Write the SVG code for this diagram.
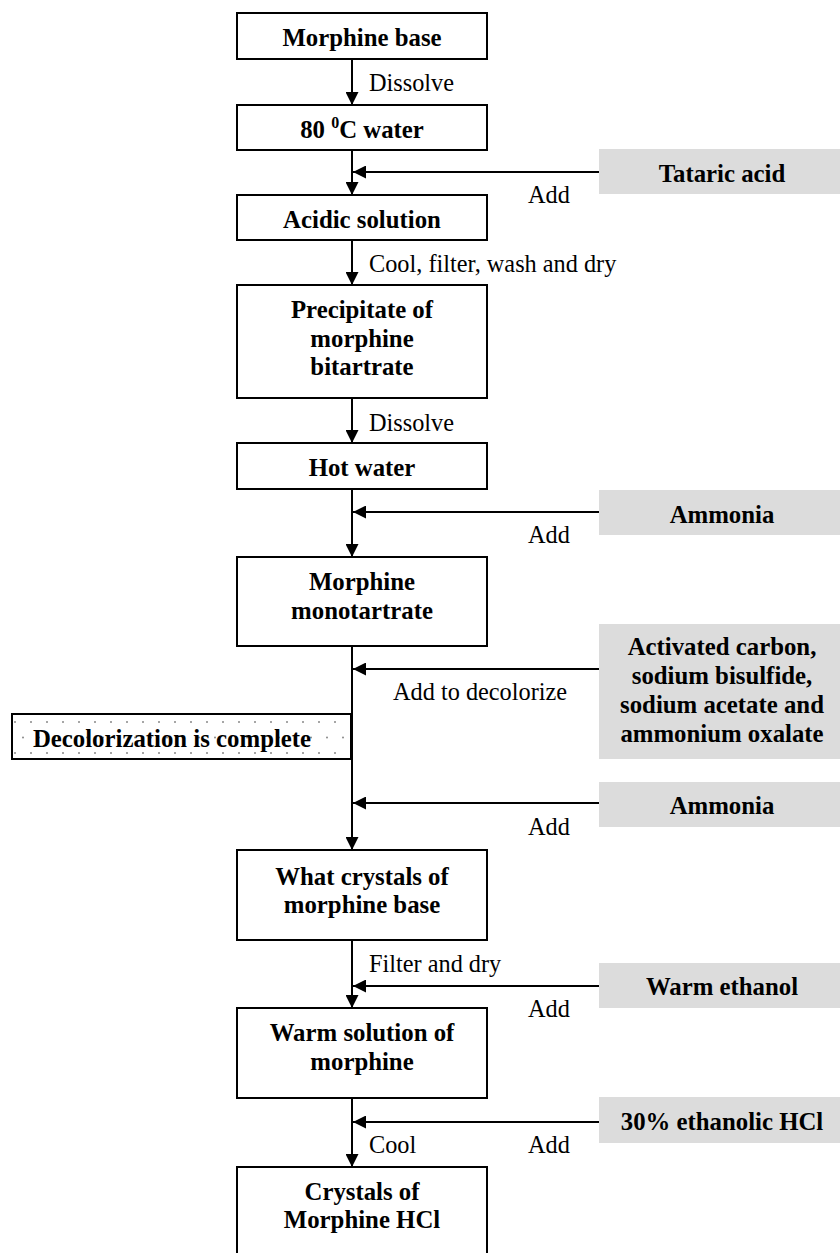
<svg xmlns="http://www.w3.org/2000/svg" width="840" height="1253" viewBox="0 0 840 1253">
<style>
.box{fill:#fff;stroke:#000;stroke-width:2}
.gray{fill:#dcdcdc;stroke:none}
.b{font-family:"Liberation Serif","Times New Roman",serif;font-weight:bold;font-size:24.8px;fill:#000;text-anchor:middle}
.r{font-family:"Liberation Serif","Times New Roman",serif;font-size:24.3px;fill:#000}
.ln{stroke:#000;stroke-width:2;fill:none}
.ar{stroke:#000;stroke-width:2;fill:none;marker-end:url(#ah)}
</style>
<defs>
<marker id="ah" markerUnits="userSpaceOnUse" markerWidth="13" markerHeight="13" refX="13" refY="6.5" orient="auto">
<path d="M0,0 L13,6.5 L0,13 z" fill="#000"/>
</marker>
<pattern id="dots" patternUnits="userSpaceOnUse" x="12" y="714" width="16" height="31">
<rect width="16" height="31" fill="#fff"/>
<circle cx="3" cy="8" r="1" fill="#888"/>
<circle cx="11" cy="23.5" r="1" fill="#888"/>
</pattern>
</defs>

<g id="connectors">
<line class="ar" x1="352" y1="59" x2="352" y2="105"/>
<line class="ar" x1="352" y1="150" x2="352" y2="195"/>
<line class="ar" x1="599" y1="172" x2="353" y2="172"/>
<line class="ar" x1="352" y1="240" x2="352" y2="285"/>
<line class="ar" x1="352" y1="398" x2="352" y2="443"/>
<line class="ar" x1="352" y1="489" x2="352" y2="557"/>
<line class="ar" x1="599" y1="512" x2="353" y2="512"/>
<line class="ar" x1="352" y1="646" x2="352" y2="850"/>
<line class="ar" x1="599" y1="669" x2="353" y2="669"/>
<line class="ar" x1="599" y1="803" x2="353" y2="803"/>
<line class="ar" x1="352" y1="940" x2="352" y2="1008"/>
<line class="ar" x1="599" y1="986" x2="353" y2="986"/>
<line class="ar" x1="352" y1="1098" x2="352" y2="1167"/>
<line class="ar" x1="599" y1="1122" x2="353" y2="1122"/>
<text class="r" x="369" y="91">Dissolve</text>
<text class="r" x="528" y="203">Add</text>
<text class="r" x="369" y="272">Cool, filter, wash and dry</text>
<text class="r" x="369" y="431">Dissolve</text>
<text class="r" x="528" y="543">Add</text>
<text class="r" x="393" y="700">Add to decolorize</text>
<text class="r" x="528" y="835">Add</text>
<text class="r" x="369" y="972">Filter and dry</text>
<text class="r" x="528" y="1017">Add</text>
<text class="r" x="369" y="1153">Cool</text>
<text class="r" x="528" y="1153">Add</text>
</g>

<g id="n1"><rect class="box" x="237" y="13" width="250" height="46"/><text class="b" x="362" y="46">Morphine base</text></g>
<g id="n2"><rect class="box" x="237" y="105" width="250" height="45"/><text class="b" x="362" y="138">80 <tspan font-size="16" dy="-10">0</tspan><tspan dy="10">C water</tspan></text></g>
<g id="n3"><rect class="box" x="237" y="195" width="250" height="45"/><text class="b" x="362" y="228">Acidic solution</text></g>
<g id="n4"><rect class="box" x="237" y="285" width="250" height="113"/><text class="b" x="362" y="318">Precipitate of</text><text class="b" x="362" y="347">morphine</text><text class="b" x="362" y="375">bitartrate</text></g>
<g id="n5"><rect class="box" x="237" y="443" width="250" height="46"/><text class="b" x="362" y="476">Hot water</text></g>
<g id="n6"><rect class="box" x="237" y="557" width="250" height="89"/><text class="b" x="362" y="590">Morphine</text><text class="b" x="362" y="619">monotartrate</text></g>
<g id="n7"><rect class="box" x="237" y="850" width="250" height="90"/><text class="b" x="362" y="885">What crystals of</text><text class="b" x="362" y="913">morphine base</text></g>
<g id="n8"><rect class="box" x="237" y="1008" width="250" height="90"/><text class="b" x="362" y="1041">Warm solution of</text><text class="b" x="362" y="1070">morphine</text></g>
<g id="n9"><rect class="box" x="237" y="1167" width="250" height="100"/><text class="b" x="362" y="1200">Crystals of</text><text class="b" x="362" y="1228">Morphine HCl</text></g>

<g id="s1"><rect class="gray" x="599" y="149" width="241" height="45"/><text class="b" x="722" y="182">Tataric acid</text></g>
<g id="s2"><rect class="gray" x="599" y="490" width="241" height="45"/><text class="b" x="722" y="523">Ammonia</text></g>
<g id="s3"><rect class="gray" x="599" y="624" width="241" height="135"/><text class="b" x="722" y="655">Activated carbon,</text><text class="b" x="722" y="684">sodium bisulfide,</text><text class="b" x="722" y="713">sodium acetate and</text><text class="b" x="722" y="742">ammonium oxalate</text></g>
<g id="s4"><rect class="gray" x="599" y="782" width="241" height="45"/><text class="b" x="722" y="814">Ammonia</text></g>
<g id="s5"><rect class="gray" x="599" y="963" width="241" height="45"/><text class="b" x="722" y="995">Warm ethanol</text></g>
<g id="s6"><rect class="gray" x="599" y="1097" width="241" height="46"/><text class="b" x="722" y="1130">30% ethanolic HCl</text></g>

<g id="decol"><rect x="12" y="714" width="339" height="45" fill="url(#dots)" stroke="#000" stroke-width="2"/><text class="b" x="172" y="747">Decolorization is complete</text></g>
</svg>
